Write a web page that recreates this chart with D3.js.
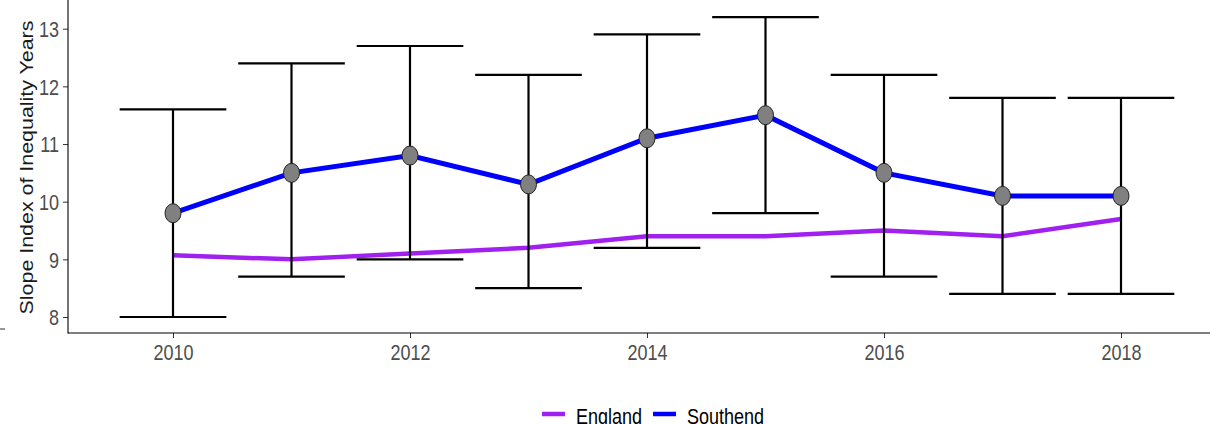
<!DOCTYPE html>
<html>
<head>
<meta charset="utf-8">
<script src="https://cdn.jsdelivr.net/npm/d3@7"></script>
<style>
  html, body { margin: 0; padding: 0; background: #fff; }
  svg { display: block; font-family: "Liberation Sans", Arial, sans-serif; }
</style>
</head>
<body>
<svg id="chart" width="1210" height="424"></svg>
<script>
// Slope Index of Inequality, Southend vs England
const years = [2010, 2011, 2012, 2013, 2014, 2015, 2016, 2017, 2018];
const southend = [9.8, 10.5, 10.8, 10.3, 11.1, 11.5, 10.5, 10.1, 10.1];
const southendLower = [8.0, 8.7, 9.0, 8.5, 9.2, 9.8, 8.7, 8.4, 8.4];
const southendUpper = [11.6, 12.4, 12.7, 12.2, 12.9, 13.2, 12.2, 11.8, 11.8];
const england = [9.07, 9.0, 9.1, 9.2, 9.4, 9.4, 9.5, 9.4, 9.7];
const xTicks = [2010, 2012, 2014, 2016, 2018];
const yTicks = [8, 9, 10, 11, 12, 13];
const seriesNames = ["England", "Southend"];
const seriesColors = ["#A020F0", "#0000FF"];

const svg = d3.select("#chart");
const plotLeft = 68, plotBottom = 333;
const stretch = 1.19;          // vertical aspect of the output
const fontSize = "18px";

const x = d3.scaleLinear().domain([2010, 2018]).range([173, 1121]);
const y = d3.scaleLinear().domain([8, 13]).range([317, 28.7]);

const capHalf = 0.45; // error bar half-width in years

// y axis
const yAxis = svg.append("g")
  .attr("transform", `translate(${plotLeft},0)`)
  .call(d3.axisLeft(y).tickValues(yTicks).tickSize(5).tickPadding(4).tickFormat(d3.format("d")));
yAxis.select(".domain").remove();
yAxis.selectAll(".tick line").attr("stroke", "#333");
yAxis.selectAll(".tick text")
  .attr("x", 0).attr("y", 0).attr("dy", "0.37em")
  .attr("transform", `translate(-9,0) scale(1,${stretch})`)
  .attr("fill", "#4D4D4D").style("font-size", fontSize)
  .style("font-family", "Liberation Sans, Arial, sans-serif");

// x axis
const xAxis = svg.append("g")
  .attr("transform", `translate(0,${plotBottom})`)
  .call(d3.axisBottom(x).tickValues(xTicks).tickSize(5).tickFormat(d3.format("d")));
xAxis.select(".domain").remove();
xAxis.selectAll(".tick line").attr("stroke", "#333");
xAxis.selectAll(".tick text")
  .attr("y", 0).attr("dy", 0)
  .attr("transform", `translate(0,27) scale(1,${stretch})`)
  .attr("fill", "#4D4D4D").style("font-size", fontSize)
  .style("font-family", "Liberation Sans, Arial, sans-serif");

// axis lines
svg.append("line").attr("x1", plotLeft).attr("x2", plotLeft).attr("y1", 0).attr("y2", plotBottom + 0.5)
  .attr("stroke", "#000").attr("stroke-width", 1.1);
svg.append("line").attr("x1", plotLeft).attr("x2", 1210).attr("y1", plotBottom).attr("y2", plotBottom)
  .attr("stroke", "#000").attr("stroke-width", 1.1);

// small stray tick at the far left
svg.append("line").attr("x1", 0).attr("x2", 5).attr("y1", 329).attr("y2", 329)
  .attr("stroke", "#333").attr("stroke-width", 1);

// y axis title
svg.append("text")
  .attr("transform", `translate(33,167.5) scale(1,${stretch}) rotate(-90)`)
  .attr("text-anchor", "middle")
  .attr("fill", "#1a1a1a")
  .style("font-size", fontSize)
  .text("Slope Index of Inequality Years");

const line = d3.line().x((d, i) => x(years[i])).y(d => y(d));

// England line
svg.append("path").datum(england)
  .attr("d", line).attr("fill", "none")
  .attr("stroke", seriesColors[0]).attr("stroke-width", 4.5);

// Southend line
svg.append("path").datum(southend)
  .attr("d", line).attr("fill", "none")
  .attr("stroke", seriesColors[1]).attr("stroke-width", 5);

// error bars
const eb = svg.append("g").attr("stroke", "#000").attr("stroke-width", 2.2).attr("fill", "none");
years.forEach((yr, i) => {
  eb.append("line").attr("x1", x(yr)).attr("x2", x(yr))
    .attr("y1", y(southendLower[i])).attr("y2", y(southendUpper[i]));
  eb.append("line").attr("x1", x(yr - capHalf)).attr("x2", x(yr + capHalf))
    .attr("y1", y(southendUpper[i])).attr("y2", y(southendUpper[i]));
  eb.append("line").attr("x1", x(yr - capHalf)).attr("x2", x(yr + capHalf))
    .attr("y1", y(southendLower[i])).attr("y2", y(southendLower[i]));
});

// points
svg.append("g").selectAll("ellipse").data(southend).join("ellipse")
  .attr("cx", (d, i) => x(years[i])).attr("cy", d => y(d))
  .attr("rx", 8).attr("ry", 9.5)
  .attr("fill", "#808080").attr("stroke", "#222").attr("stroke-width", 1);

// legend
const legend = svg.append("g");
const legendItems = [{ x0: 542, tx: 576 }, { x0: 653, tx: 687 }];
seriesNames.forEach((name, i) => {
  legend.append("line").attr("x1", legendItems[i].x0).attr("x2", legendItems[i].x0 + 23)
    .attr("y1", 414).attr("y2", 414)
    .attr("stroke", seriesColors[i]).attr("stroke-width", 4.5);
  legend.append("text")
    .attr("transform", `translate(${legendItems[i].tx},423.5) scale(1,${stretch})`)
    .attr("fill", "#000").style("font-size", fontSize).text(name);
});
</script>
</body>
</html>
